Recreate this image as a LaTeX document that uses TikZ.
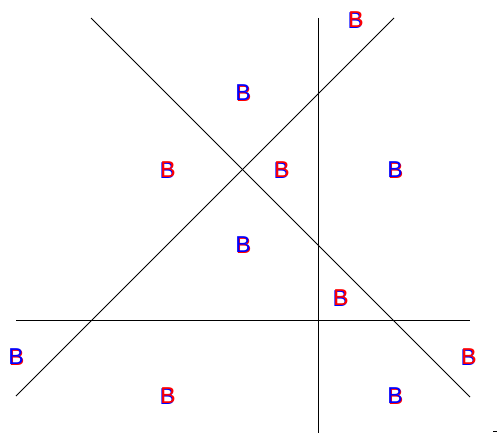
\documentclass[tikz,border=0pt]{standalone}
\usepackage{fontspec}
\setmainfont{Liberation Sans}
\begin{document}
\begin{tikzpicture}[x=1pt,y=-1pt,
  lbl/.style={inner sep=0pt,font=\fontsize{23}{23}\selectfont},
  rb/.style={lbl,text=red},
  bb/.style={lbl,text=blue},
  ln/.style={draw=black,line width=0.8pt}]
\useasboundingbox (0,0) rectangle (497,433);
% lines
\coordinate (a1) at (91,18);
\coordinate (a2) at (470,397);
\coordinate (b1) at (394,18);
\coordinate (b2) at (16,396);
\coordinate (v1) at (318,18);
\coordinate (v2) at (318,433);
\coordinate (h1) at (16,320);
\coordinate (h2) at (470,320);
\draw[ln] (a1) -- (a2);
\draw[ln] (b1) -- (b2);
\draw[ln] (v1) -- (v2);
\draw[ln] (h1) -- (h2);
\coordinate (m1) at (493,431);
\coordinate (m2) at (497,431);
\draw[ln] (m1) -- (m2);
% red on top
\foreach \n/\x/\y in {r1/356/20, r2/168/170, r3/282/170, r4/341/298, r5/469/357, r6/168/396}{
  \node[bb] (\n b) at (\x-0.8,\y+1) {B};
  \node[rb] (\n r) at (\x,\y) {B};
}
% blue on top
\foreach \n/\x/\y in {s1/243/93, s2/395/170, s3/243/245, s4/16/357, s5/395/396}{
  \node[rb] (\n r) at (\x+0.8,\y+0.8) {B};
  \node[bb] (\n b) at (\x,\y) {B};
}
\end{tikzpicture}
\end{document}
